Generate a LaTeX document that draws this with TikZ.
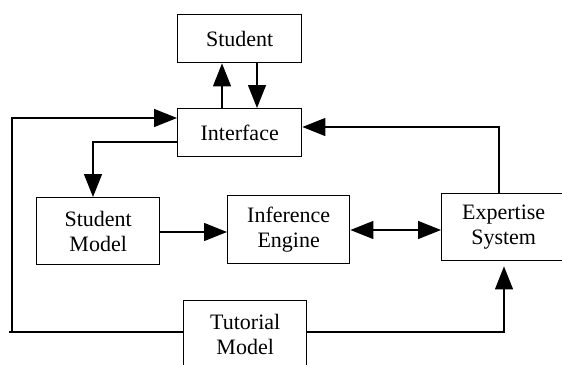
\documentclass[tikz,border=0pt]{standalone}
\usepackage{fontspec}
\setmainfont{Liberation Serif}
\usetikzlibrary{arrows.meta}
\begin{document}
\begin{tikzpicture}[x=1pt,y=-1pt,
  box/.style={draw,line width=1.4pt,anchor=north west,inner sep=0pt,
    align=center,font=\fontsize{22}{25}\selectfont},
  link/.style={line width=1.2pt},
  tip/.style={},
  arr/.style={link,-{Triangle[length=23pt,width=18pt]}}]
\useasboundingbox (0,0) rectangle (562,364);
\node[box,minimum width=124pt,minimum height=48pt] (student) at (177,14) {Student};
\node[box,minimum width=124pt,minimum height=48pt] (interface) at (177,108) {Interface};
\node[box,minimum width=123pt,minimum height=67pt] (smodel) at (36,197) {Student\\Model};
\node[box,minimum width=122pt,minimum height=68pt] (infer) at (227,195) {Inference\\Engine};
\node[box,minimum width=124pt,minimum height=67pt] (expert) at (441,193) {Expertise\\System};
\node[box,minimum width=123pt,minimum height=68pt] (tutor) at (183,300) {Tutorial\\Model};
% helper coordinates
\coordinate (up) at (222,0);
\coordinate (dn) at (257,0);
\coordinate (lx) at (12,0);
\coordinate (ly) at (0,118);
\coordinate (sx) at (93,0);
\coordinate (sy) at (0,142);
\coordinate (my) at (0,232);
\coordinate (iy) at (0,230);
\coordinate (ex) at (499,0);
\coordinate (ey) at (0,127);
\coordinate (tx) at (504,0);
\coordinate (ty) at (0,332);
% connectors
\draw[arr] (interface.north -| up) -- (student.south -| up);
\draw[arr] (student.south -| dn) -- (interface.north -| dn);
\draw[arr] (tutor.west |- ty) -- (lx |- ty) -- (lx |- ly) -- (interface.west |- ly);
\draw[link] (lx |- ty) -- ++(-3,0);
\draw[arr] (interface.west |- sy) -- (sx |- sy) -- (smodel.north -| sx);
\draw[arr] (smodel.east |- my) -- (infer.west |- my);
\draw[link,{Triangle[length=23pt,width=18pt]}-{Triangle[length=23pt,width=18pt]}] (infer.east |- iy) -- (expert.west |- iy);
\draw[arr] (expert.north -| ex) -- (ex |- ey) -- (interface.east |- ey);
\draw[arr,shorten >=5pt] (tutor.east |- ty) -- (tx |- ty) -- (expert.south -| tx);
\end{tikzpicture}
\end{document}
